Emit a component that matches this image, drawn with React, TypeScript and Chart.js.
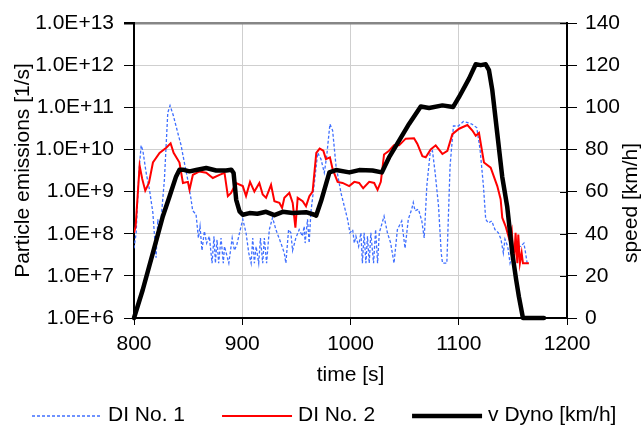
import React, { useEffect, useRef } from 'react';
import { Chart, registerables } from 'chart.js';

Chart.register(...registerables);

const FONT = "'Liberation Sans', Arial, Helvetica, sans-serif";

// ---- Data ----
const seriesLabels = ['DI No. 1', 'DI No. 2', 'v Dyno [km/h]'];

const xTicks = [800, 900, 1000, 1100, 1200];
const emissionExponents = [6, 7, 8, 9, 10, 11, 12, 13];
const speedTicks = [0, 20, 40, 60, 80, 100, 120, 140];

// DI No. 1 (blue dashed), particle emissions [1/s]
const di1Time = [
  800, 802, 804.5, 806.6, 808.2, 811.2, 814.3, 817.4, 820.4, 822, 823.5, 825, 828.1, 831.2, 833.3,
  836.4, 840.4, 843.5, 846.5, 849.6, 852.7, 854.2, 857.3, 859.5, 861, 862.8, 865, 867.1, 869.6, 872.1,
  873.9, 875.2, 876.7, 878.2, 880.4, 882.5, 883.6, 887.6, 890.7, 892.8, 895, 897.5, 900.5, 903.5, 906,
  908.2, 909.7, 911.2, 912.8, 915.2, 916.8, 918.9, 920.4, 922.5, 925, 928, 931.1, 935.7, 938.8, 940.3,
  942.8, 944.9, 946.5, 949.5, 952.6, 955.6, 957.2, 958.1, 960.3, 961.8, 963.4, 966.6, 969.7, 972.7, 975.8,
  978, 981, 983.5, 986.6, 991.2, 997.3, 999.5, 1002, 1003.5, 1005, 1007.5, 1009.6, 1011, 1012.6, 1014.2,
  1015.7, 1017.3, 1018.8, 1021.3, 1023.2, 1025, 1026.6, 1031, 1034.1, 1037.1, 1040.2, 1043.3, 1047.3, 1050.4, 1053.4,
  1056.5, 1058, 1059.6, 1062.8, 1065.9, 1068.1, 1070.5, 1073.6, 1075.7, 1078.2, 1081.3, 1083.8, 1085, 1089, 1092,
  1095.1, 1099.7, 1104.3, 1107.4, 1112, 1116.6, 1119.7, 1122.8, 1124.9, 1127.4, 1130.5, 1133.5, 1136.6, 1139, 1141.2,
  1142.7, 1145.2, 1147.4, 1150.4, 1154.1, 1157.2, 1160.2, 1161.7, 1163.2, 1164.8,
];
const di1Values = [
  4.5e7, 1.05e8, 2.8e9, 1.25e10, 9.3e9, 2.8e9, 1.1e9, 3.2e8, 2.7e7, 2.2e8, 1.05e8, 2.2e8, 1.95e9, 7.4e10, 1.1e11,
  6.3e10, 2.5e10, 1.25e10, 4.9e9, 1.95e9, 6.6e8, 3.5e8, 2.9e8, 7.9e7, 1.5e8, 4e7, 1.15e8, 6e7, 8.7e7, 2e7,
  8.7e7, 2e7, 7.2e7, 2e7, 7.9e7, 2e7, 5e7, 2e7, 7.9e7, 4e7, 5.5e7, 1.05e8, 2.2e8, 1.05e8, 3.5e7,
  2e7, 7.9e7, 2e7, 5e7, 2e7, 7.9e7, 2e7, 7.9e7, 2e7, 1.25e8, 2.4e8, 1.25e8, 6e7, 3.5e7, 2e7,
  1.25e8, 1.05e8, 4e7, 7.9e7, 1.25e8, 8.7e7, 1.5e8, 6e7, 2.2e8, 6e7, 3.2e8, 1.6e9, 8.3e9, 5.9e9, 2.8e9,
  6.9e9, 4e10, 2.8e10, 4.1e9, 9.3e8, 2.2e8, 1.05e8, 1.25e8, 6e7, 8.7e7, 5e7, 1.05e8, 2e7, 1.05e8, 2e7,
  8.7e7, 2e7, 1.05e8, 2e7, 1.25e8, 2e7, 1.05e8, 2.6e8, 1.05e8, 6e7, 2e7, 1.25e8, 2e8, 4.5e7, 2.2e8,
  3.8e8, 5.5e8, 3.5e8, 3.8e8, 2e8, 7.9e7, 1.35e9, 8.3e9, 9.3e9, 2.8e9, 4.6e8, 3.5e7, 2e7, 2e7, 4.1e9,
  3.6e10, 3.6e10, 4.6e10, 4.4e10, 4e10, 3.3e10, 1.0e10, 1.35e9, 2.2e8, 1.8e8, 2e8, 1.25e8, 1.05e8, 7.4e7, 3.5e7,
  7.4e7, 5e7, 2e7, 3.5e7, 5e7, 5e7, 6e7, 3.5e7, 2e7, 2e7,
];

// DI No. 2 (red), particle emissions [1/s]
const di2Time = [
  800, 801.5, 805.2, 807.6, 810.4, 813.8, 817.5, 823.6, 829.8, 833.8, 836.6, 842, 845.2, 849.8, 851.3,
  854.4, 860.5, 866.7, 872.8, 879, 883.6, 886.7, 889.7, 894.3, 900.5, 903.5, 907.2, 911.2, 915.8, 918.9,
  922, 926.6, 929.7, 934.3, 936.8, 938.9, 943.5, 946.6, 949.1, 951.2, 955.8, 958.9, 962, 965, 968.4,
  971.5, 974.9, 977.3, 981, 983.5, 988.1, 992.7, 998.8, 1003.5, 1008, 1011.7, 1017.3, 1021.9, 1025, 1028,
  1031, 1035.6, 1040.2, 1044.9, 1051, 1058.7, 1061.8, 1066.4, 1069.5, 1074.1, 1078.7, 1084.9, 1089.5, 1094.1, 1100.3,
  1108, 1112.6, 1115.7, 1118.7, 1123.3, 1129.5, 1135.6, 1138.7, 1140.2, 1143.3, 1146.4, 1148.9, 1151, 1152.5, 1154.1,
  1155, 1156.5, 1158.1, 1159.3, 1164.8,
];
const di2Values = [
  1.05e8, 1.5e8, 4.1e9, 2.0e9, 1.05e9, 1.6e9, 4.9e9, 8.3e9, 1.1e10, 1.4e10, 8.3e9, 4.9e9, 1.6e9, 1.7e9, 1.1e9,
  2.5e9, 3.0e9, 2.8e9, 2.1e9, 2.5e9, 2.8e9, 7.8e8, 9.3e8, 1.6e9, 1.35e9, 7.8e8, 1.7e9, 1.0e9, 1.6e9, 8.5e8,
  7.1e8, 1.45e9, 5.9e8, 5.4e8, 4.1e8, 7.1e8, 9.3e8, 5.4e8, 1.4e8, 7.1e8, 5.9e8, 4.5e8, 7.8e8, 1.0e9, 8.3e9,
  1.05e10, 9.3e9, 5.9e9, 6.5e9, 3.4e9, 1.7e9, 1.6e9, 1.35e9, 1.7e9, 1.6e9, 1.2e9, 1.7e9, 1.6e9, 1.1e9, 1.7e9,
  7.6e9, 9.3e9, 1.25e10, 1.25e10, 1.8e10, 1.85e10, 1.35e10, 6.9e9, 6.5e9, 1.0e10, 1.25e10, 7.8e9, 9.3e9, 2.3e10, 3.1e10,
  3.8e10, 2.8e10, 2.1e10, 2.45e10, 4.9e9, 3.7e9, 1.35e9, 6.6e8, 2.4e8, 1.5e8, 7.9e7, 1.25e8, 2e7, 1.05e8, 2e7,
  9.5e7, 2e7, 3.5e7, 2e7, 2e7,
];

// v Dyno (black), speed [km/h]
const speedTime = [
  800, 808.1, 817.4, 826.6, 832.8, 838.9, 842, 845, 851.3, 857.4, 866.7, 875.9, 885.2, 889.8, 892,
  894.4, 897.5, 900.5, 906.7, 914, 922, 929.7, 937.4, 946.6, 958.9, 966.6, 968.3, 972.9, 980.5, 986.6,
  998.9, 1008, 1020.3, 1028.9, 1035.6, 1044.9, 1054.1, 1064.9, 1072.6, 1084.9, 1094.7, 1100.3, 1109.5, 1115.7, 1120.3,
  1124.9, 1127.9, 1131, 1135.6, 1140.2, 1144.8, 1149.5, 1153.1, 1155.6, 1159.3, 1178.7,
];
const speedValues = [
  0, 13.4, 30.8, 48.2, 57.7, 67.2, 70.4, 70.4, 69.6, 70.2, 71.2, 70, 70, 70.4, 68.8,
  56.1, 50.6, 49, 49.8, 49.5, 50.4, 48.8, 50.4, 49.8, 50.2, 49, 48.6, 55.6, 69.1, 70.2,
  69.1, 70.2, 70, 69.1, 76.2, 84.2, 92.1, 100.4, 99.7, 100.9, 100.1, 104.9, 113.6, 120.4, 120,
  120.4, 117.6, 108.1, 87.5, 66.9, 52.7, 30.6, 17.9, 10, 0, 0,
];

const toPoints = (t: number[], v: number[]) => t.map((x, i) => ({ x, y: v[i] }));

const overlayPlugin = {
  id: 'overlayLegend',
  afterDraw(chart: any) {
    const ctx = chart.ctx as CanvasRenderingContext2D;
    const area = chart.chartArea;
    ctx.save();
    // inner part of the cross tick marks on the right axis
    const y1 = chart.scales.y1;
    ctx.strokeStyle = '#000';
    ctx.lineWidth = 1;
    y1.ticks.forEach((t: any) => {
      const py = Math.round(y1.getPixelForValue(t.value)) + 0.5;
      ctx.beginPath();
      ctx.moveTo(area.right - 7, py);
      ctx.lineTo(area.right, py);
      ctx.stroke();
    });
    // legend
    ctx.font = `21px ${FONT}`;
    ctx.textBaseline = 'middle';
    ctx.textAlign = 'left';
    const y = 416;
    let x = 32;
    chart.data.datasets.forEach((ds: any) => {
      ctx.strokeStyle = ds.borderColor;
      ctx.lineWidth = ds.borderWidth;
      ctx.setLineDash(ds.borderDash || []);
      ctx.lineCap = 'butt';
      ctx.beginPath();
      ctx.moveTo(x, y);
      ctx.lineTo(x + 70, y);
      ctx.stroke();
      ctx.setLineDash([]);
      ctx.fillStyle = '#000';
      const tx = x + 76;
      ctx.fillText(ds.label, tx, y - 0.5);
      x = tx + ctx.measureText(ds.label).width + 37;
    });
    // right axis title
    ctx.font = `21px ${FONT}`;
    ctx.translate(631, 203);
    ctx.rotate(-Math.PI / 2);
    ctx.textAlign = 'center';
    ctx.textBaseline = 'middle';
    ctx.fillStyle = '#000';
    ctx.fillText('speed [km/h]', 0, 0);
    ctx.restore();
  },
};

export default function App() {
  const canvasRef = useRef<HTMLCanvasElement | null>(null);

  useEffect(() => {
    document.body.style.margin = '0';
    const canvas = canvasRef.current;
    if (!canvas) return;
    const tickFont = { family: FONT, size: 21 };
    const chart = new Chart(canvas, {
      type: 'line',
      data: {
        datasets: [
          {
            label: seriesLabels[0],
            data: toPoints(di1Time, di1Values),
            borderColor: '#3F6FFF',
            borderWidth: 1.3,
            borderDash: [3, 2],
            pointRadius: 0,
            yAxisID: 'y',
            order: 2,
            tension: 0,
          },
          {
            label: seriesLabels[1],
            data: toPoints(di2Time, di2Values),
            borderColor: '#FF0000',
            borderWidth: 2,
            pointRadius: 0,
            yAxisID: 'y',
            order: 1,
            tension: 0,
          },
          {
            label: seriesLabels[2],
            data: toPoints(speedTime, speedValues),
            borderColor: '#000000',
            borderWidth: 4.5,
            pointRadius: 0,
            yAxisID: 'y1',
            order: 0,
            tension: 0,
            borderJoinStyle: 'round',
            borderCapStyle: 'round',
            clip: 4,
          },
        ] as any,
      },
      options: {
        animation: false,
        responsive: false,
        devicePixelRatio: 1,
        layout: { padding: { top: 23, left: 0, right: 0, bottom: 0 } },
        plugins: {
          legend: { display: false },
          tooltip: { enabled: false },
        },
        scales: {
          x: {
            type: 'linear',
            min: 800,
            max: 1200,
            afterBuildTicks: (s: any) => {
              s.ticks = xTicks.map((v) => ({ value: v }));
            },
            afterFit: (s: any) => {
              s.height = 109;
            },
            ticks: {
              font: tickFont,
              color: '#000',
              padding: 7,
              maxRotation: 0,
              callback: (v: any) => String(v),
            },
            grid: { color: '#cfcfcf', tickColor: '#000', tickLength: 7, lineWidth: 1 },
            border: { color: '#000', width: 2 },
            title: {
              display: true,
              text: 'time [s]',
              color: '#000',
              font: { family: FONT, size: 21, lineHeight: 1.2 },
              padding: { top: 0, bottom: 38.7 },
            },
          },
          y: {
            type: 'logarithmic',
            position: 'left',
            min: 1e6,
            max: 1e13,
            afterBuildTicks: (s: any) => {
              s.ticks = emissionExponents.map((e) => ({ value: Math.pow(10, e) }));
            },
            afterFit: (s: any) => {
              s.width = 134;
            },
            ticks: {
              font: tickFont,
              color: '#000',
              padding: 10,
              callback: (v: any) => '1.0E+' + Math.round(Math.log10(Number(v))),
            },
            grid: {
              color: (c: any) => (c.tick && c.tick.value >= 1e13 ? '#868686' : '#cfcfcf'),
              lineWidth: (c: any) => (c.tick && c.tick.value >= 1e13 ? 2.5 : 1),
              tickColor: '#000',
              tickLength: 10,
            },
            border: { color: '#000', width: 2 },
            title: {
              display: true,
              text: 'Particle emissions [1/s]',
              color: '#000',
              font: { family: FONT, size: 21, lineHeight: 1 },
              padding: { top: 12.5, bottom: 0 },
            },
          },
          y1: {
            type: 'linear',
            position: 'right',
            min: 0,
            max: 140,
            afterBuildTicks: (s: any) => {
              s.ticks = speedTicks.map((v) => ({ value: v }));
            },
            afterFit: (s: any) => {
              s.width = 74;
            },
            ticks: { font: tickFont, color: '#000', padding: 8, callback: (v: any) => String(v) },
            grid: { drawOnChartArea: false, tickColor: '#000', tickLength: 10 },
            border: { color: '#000', width: 2 },
          },
        },
      } as any,
      plugins: [overlayPlugin],
    });
    return () => chart.destroy();
  }, []);

  return (
    <div style={{ width: 641, height: 427 }}>
      <canvas ref={canvasRef} width={641} height={427} style={{ display: 'block', width: 641, height: 427 }} />
    </div>
  );
}
